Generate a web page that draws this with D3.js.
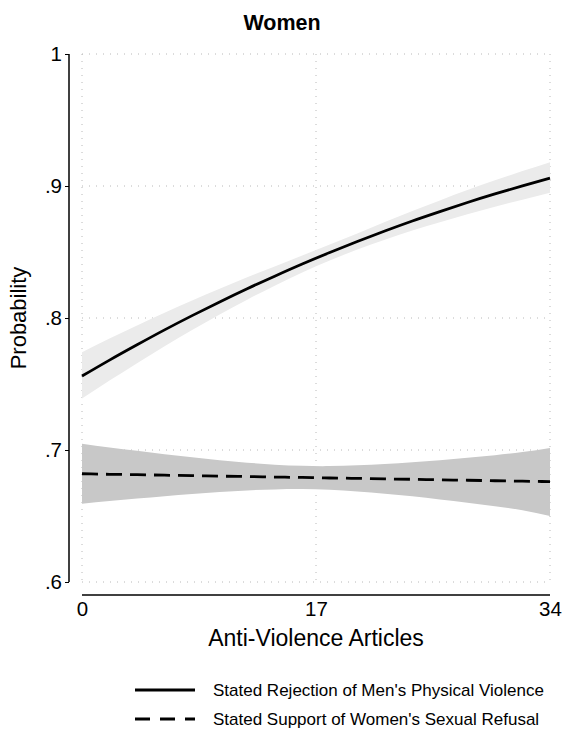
<!DOCTYPE html>
<html>
<head>
<meta charset="utf-8">
<script src="https://cdn.jsdelivr.net/npm/d3@7"></script>
<style>
  html, body { margin: 0; padding: 0; background: #fff; }
  svg { display: block; font-family: "Liberation Sans", Arial, Helvetica, sans-serif; }
</style>
</head>
<body>
<svg id="chart" width="563" height="729"></svg>
<script>
// Predicted probabilities by number of anti-violence articles read
const articles = [0, 2, 4, 6, 8, 10, 12, 14, 16, 18, 20, 22, 24, 26, 28, 30, 32, 34];

// Stated rejection of men's physical violence: fit and 95% CI
const rejectFit = [0.7560, 0.7681, 0.7797, 0.7910, 0.8018, 0.8122, 0.8222, 0.8317, 0.8409, 0.8496, 0.8579, 0.8659, 0.8735, 0.8806, 0.8875, 0.8940, 0.9001, 0.9060];
const rejectLo  = [0.7390, 0.7526, 0.7658, 0.7786, 0.7909, 0.8027, 0.8139, 0.8245, 0.8345, 0.8436, 0.8518, 0.8593, 0.8662, 0.8725, 0.8786, 0.8843, 0.8896, 0.8948];
const rejectHi  = [0.7740, 0.7844, 0.7943, 0.8040, 0.8132, 0.8221, 0.8308, 0.8391, 0.8474, 0.8557, 0.8641, 0.8727, 0.8811, 0.8891, 0.8969, 0.9043, 0.9113, 0.9180];

// Stated support of women's sexual refusal: fit and 95% CI
const refusalFit = [0.6820, 0.6816, 0.6813, 0.6809, 0.6806, 0.6802, 0.6799, 0.6795, 0.6792, 0.6788, 0.6785, 0.6781, 0.6778, 0.6774, 0.6771, 0.6767, 0.6764, 0.6760];
const refusalLo  = [0.6593, 0.6613, 0.6632, 0.6650, 0.6667, 0.6682, 0.6694, 0.6701, 0.6704, 0.6698, 0.6686, 0.6669, 0.6649, 0.6625, 0.6601, 0.6573, 0.6544, 0.6500];
const refusalHi  = [0.7047, 0.7019, 0.6994, 0.6968, 0.6945, 0.6922, 0.6904, 0.6889, 0.6880, 0.6878, 0.6884, 0.6893, 0.6907, 0.6923, 0.6941, 0.6961, 0.6984, 0.7015];

const yTicks = [0.6, 0.7, 0.8, 0.9, 1];
const yTickLabels = [".6", ".7", ".8", ".9", "1"];
const xTicks = [0, 17, 34];

const titleText = "Women";
const xTitle = "Anti-Violence Articles";
const yTitle = "Probability";
const legendLabels = ["Stated Rejection of Men's Physical Violence", "Stated Support of Women's Sexual Refusal"];

const svg = d3.select("#chart");

const x = d3.scaleLinear().domain([0, 34]).range([82, 550]);
const y = d3.scaleLinear().domain([0.6, 1]).range([582, 54]);

// Dotted grid
const grid = svg.append("g").attr("stroke", "#b8b8b8").attr("stroke-width", 1)
  .attr("stroke-dasharray", "1,6");
grid.selectAll("line.h").data(yTicks).join("line")
  .attr("x1", x(0)).attr("x2", x(34))
  .attr("y1", d => y(d)).attr("y2", d => y(d));
grid.selectAll("line.v").data(xTicks).join("line")
  .attr("x1", d => x(d)).attr("x2", d => x(d))
  .attr("y1", y(1)).attr("y2", y(0.6));

// Confidence bands
const rows = articles.map((a, i) => ({
  a, rf: rejectFit[i], rl: rejectLo[i], rh: rejectHi[i],
  sf: refusalFit[i], sl: refusalLo[i], sh: refusalHi[i]
}));

const curve = d3.curveNatural;

svg.append("path").datum(rows)
  .attr("fill", "#ebebeb")
  .attr("d", d3.area().curve(curve).x(d => x(d.a)).y0(d => y(d.rl)).y1(d => y(d.rh)));

svg.append("path").datum(rows)
  .attr("fill", "#c8c8c8")
  .attr("d", d3.area().curve(curve).x(d => x(d.a)).y0(d => y(d.sl)).y1(d => y(d.sh)));

// Fitted lines
svg.append("path").datum(rows)
  .attr("fill", "none").attr("stroke", "#000").attr("stroke-width", 2.8)
  .attr("d", d3.line().curve(curve).x(d => x(d.a)).y(d => y(d.rf)));

svg.append("path").datum(rows)
  .attr("fill", "none").attr("stroke", "#000").attr("stroke-width", 2.8)
  .attr("stroke-dasharray", "16,8")
  .attr("d", d3.line().curve(curve).x(d => x(d.a)).y(d => y(d.sf)));

// Y axis
const yAxis = svg.append("g").attr("transform", "translate(69,0)")
  .call(d3.axisLeft(y).tickValues(yTicks).tickFormat((d, i) => yTickLabels[i]).tickSize(4).tickPadding(3));
yAxis.select(".domain").attr("d", `M0,${y(1)}V${y(0.6)}`).attr("stroke-width", 1.5);
yAxis.selectAll(".tick line").attr("stroke-width", 1);
yAxis.selectAll(".tick text").attr("font-size", 20.5).attr("fill", "#000")
  .attr("font-family", "Liberation Sans, Arial, sans-serif");

// X axis
const xAxis = svg.append("g").attr("transform", "translate(0,595)")
  .call(d3.axisBottom(x).tickValues(xTicks).tickFormat(d3.format("d")).tickSize(0).tickPadding(6));
xAxis.select(".domain").attr("d", `M${x(0)},0H${x(34)}`).attr("stroke-width", 1.5);
xAxis.selectAll(".tick text").attr("font-size", 20.5).attr("fill", "#000")
  .attr("font-family", "Liberation Sans, Arial, sans-serif");

// Titles
svg.append("text").attr("x", 282).attr("y", 30).attr("text-anchor", "middle")
  .attr("font-size", 21.5).attr("font-weight", "bold").text(titleText);

svg.append("text").attr("x", x(17)).attr("y", 646).attr("text-anchor", "middle")
  .attr("font-size", 23).text(xTitle);

svg.append("text").attr("transform", `translate(26,${y(0.8)}) rotate(-90)`)
  .attr("text-anchor", "middle").attr("font-size", 22).text(yTitle);

// Legend
const legend = svg.append("g");
const legendRows = [{ y: 690, dash: null }, { y: 719, dash: "15,10" }];
legendRows.forEach((r, i) => {
  legend.append("line").attr("x1", 135).attr("x2", 195).attr("y1", r.y).attr("y2", r.y)
    .attr("stroke", "#000").attr("stroke-width", 2.8)
    .attr("stroke-dasharray", r.dash);
  legend.append("text").attr("x", 213).attr("y", r.y + 6)
    .attr("font-size", 17).text(legendLabels[i]);
});
</script>
</body>
</html>
